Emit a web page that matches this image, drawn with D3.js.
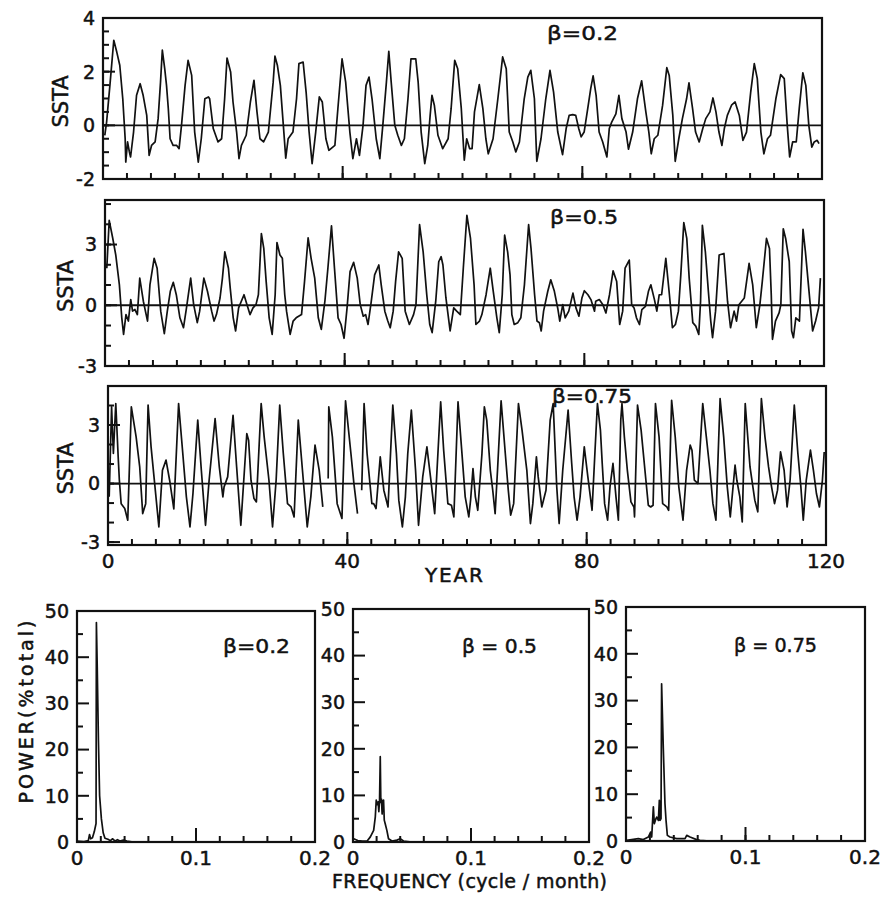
<!DOCTYPE html>
<html>
<head>
<meta charset="utf-8">
<script src="https://cdn.jsdelivr.net/npm/d3@7"></script>
<style>
body{margin:0;background:#fff}
text{font-family:"DejaVu Sans",sans-serif;fill:#111;stroke:#111;stroke-width:0.5px}
</style>
</head>
<body>
<div id="chart"></div>
<script>
// ---- data ----
var yearLabels = [0, 40, 80, 120];
var sstaLabels02 = [-2, 0, 2, 4];
var sstaLabels05 = [-3, 0, 3];
var sstaLabels075 = [-3, 0, 3];
var freqLabels = [0, 0.1, 0.2];
var powerLabels = [0, 10, 20, 30, 40, 50];
var betas = ["0.2", "0.5", "0.75"];

// SSTA series [year, value]; null = gap in the trace
var ssta02 = [[0.3,-0.37],[0.6,0.12],[1.2,1.61],[1.8,3.17],[2.3,2.73],[2.8,2.24],[3.3,0.99],[3.7,-0.5],[3.8,-1.37],[4.1,-0.62],[4.4,-0.99],[4.6,-1.18],[5.1,-0.25],[5.6,1.12],[6.2,1.55],[6.7,1.12],[7.3,0.37],[7.7,-1.12],[8.1,-0.75],[8.7,-0.62],[9.2,0.25],[9.6,1.61],[9.9,2.8],[10.3,2.11],[10.6,1.49],[10.9,0.62],[11.2,-0.5],[11.7,-0.75],[12.3,-0.75],[12.7,-0.87],[13.1,0],[13.7,1.49],[14.2,2.42],[14.8,1.86],[15.3,-0.25],[15.9,-1.37],[16.4,-0.5],[17.0,0.99],[17.6,1.06],[17.8,0.99],[18.4,-0.12],[19.2,-0.62],[19.8,-0.5],[20.3,0.99],[20.7,2.51],[21.3,1.99],[21.7,0.87],[22.3,-0.25],[22.7,-1.24],[23.1,-0.75],[23.9,-0.37],[24.6,0.87],[25.2,1.68],[25.7,0.5],[26.2,-0.5],[26.8,-0.62],[27.6,-0.25],[28.4,1.61],[28.7,2.58],[29.1,2.24],[29.6,1.49],[30.1,0],[30.5,-1.22],[30.9,-0.5],[31.7,-0.25],[32.3,0.99],[32.7,2.3],[33.4,2.36],[33.9,1.24],[34.4,-0.25],[34.9,-1.43],[35.5,-0.25],[36.1,1.06],[36.6,0.87],[37.2,-0.5],[37.7,-0.93],[38.7,-0.75],[39.2,0.62],[39.9,2.48],[40.5,1.61],[41.2,-0.25],[41.7,-1.24],[42.3,-0.5],[42.8,-1.12],[43.4,0],[43.9,1.49],[44.4,1.8],[44.9,0.99],[45.6,-0.5],[46.2,-1.24],[46.7,0],[47.3,1.61],[47.7,2.76],[48.1,1.61],[48.7,0],[49.2,-0.37],[49.8,-0.75],[50.3,-0.5],[50.9,0.99],[51.4,2.48],[52.2,2.48],[52.6,1.61],[53.1,-0.25],[53.7,-1.43],[54.2,-0.75],[54.6,0.37],[54.9,1.12],[55.3,0.75],[55.9,-0.37],[56.7,-0.87],[57.6,-0.5],[58.1,0.62],[58.7,2.42],[59.2,2.11],[59.8,0.62],[60.3,-1.3],[60.7,-0.5],[61.2,-0.87],[61.6,-0.87],[62.0,0.5],[62.8,1.52],[63.4,0.62],[63.9,-0.5],[64.3,-1.06],[65.1,-0.5],[65.9,0.99],[66.7,2.55],[67.3,2.11],[67.8,-0.25],[68.4,-0.62],[68.9,-0.99],[69.5,-0.62],[70.3,0.99],[70.9,1.8],[71.4,2.05],[72.0,0.99],[72.4,-1.34],[73.1,-0.5],[73.9,0.99],[74.6,2.05],[75.2,1.24],[75.9,-0.25],[76.7,-1.09],[77.3,-0.12],[77.8,0.37],[78.4,0.4],[78.9,0.37],[79.4,-0.12],[79.8,-0.43],[80.3,-0.25],[80.9,0.62],[81.4,1.37],[81.8,1.84],[82.3,1.12],[82.8,-0.25],[83.4,-0.62],[84.1,-1.18],[84.5,-0.12],[84.9,0.12],[85.6,0.43],[86.1,1.12],[86.6,0.25],[87.3,-0.25],[87.7,-0.89],[88.4,-0.25],[89.2,0.99],[89.9,1.66],[90.6,0.5],[91.1,-0.25],[91.5,-1.06],[92.0,-0.5],[92.6,-0.37],[93.4,0.75],[94.1,2.15],[94.5,1.86],[95.1,0.37],[95.5,-1.34],[96.1,-0.5],[96.7,0.25],[97.4,0.99],[97.8,1.58],[98.4,0.62],[98.9,-0.25],[99.5,-0.62],[100.1,-0.12],[100.6,0.25],[101.3,0.5],[101.8,1.02],[102.3,0.5],[102.8,-0.25],[103.3,-0.75],[103.7,-0.12],[104.2,0.37],[104.9,0.75],[105.5,0.87],[106.2,0.37],[106.8,-0.56],[107.4,-0.25],[108.1,1.24],[108.7,2.3],[109.2,1.74],[109.8,-0.25],[110.3,-1.06],[110.9,-0.5],[111.4,-0.37],[112.3,0.99],[113.1,1.89],[113.7,1.74],[114.2,0],[114.6,-1.18],[115.1,-0.62],[115.7,-0.62],[116.2,0.62],[116.8,1.96],[117.3,1.49],[117.8,0],[118.3,-0.81],[118.7,-0.62],[119.2,-0.56],[119.5,-0.68]];

var ssta05 = [[0.3,1.83],[0.7,4.19],[1.3,3.3],[1.8,2.48],[2.4,1.01],[2.8,-0.62],[3.1,-1.44],[3.5,-0.46],[3.9,-0.78],[4.3,0.28],[4.6,-0.29],[5.0,-0.21],[5.4,-0.46],[5.8,1.34],[6.4,0.2],[7.1,-0.78],[7.5,1.01],[8.2,2.32],[8.7,1.83],[9.3,-0.29],[9.9,-1.4],[10.4,-0.29],[10.9,0.69],[11.4,1.13],[11.9,0.52],[12.5,-0.62],[13.1,-1.11],[13.6,-0.13],[14.3,1.34],[14.8,0.03],[15.4,-0.86],[15.8,-0.29],[16.5,1.34],[17.1,0.69],[17.8,-0.29],[18.2,-0.78],[18.6,-0.46],[19.2,0.36],[19.6,1.34],[20.0,2.64],[20.6,1.83],[20.9,0.85],[21.4,-0.62],[21.8,-1.27],[22.3,-0.13],[23.2,0.52],[23.7,0.03],[24.2,-0.46],[24.7,-0.13],[25.2,0.03],[25.6,0.52],[26.1,3.54],[26.5,2.81],[26.9,1.17],[27.4,-0.62],[27.9,-1.44],[28.4,0.52],[28.7,3.1],[29.2,2.48],[29.6,2.32],[30.0,0.52],[30.3,-0.29],[30.9,-1.44],[31.4,-0.78],[31.9,-0.62],[32.8,-0.46],[33.3,1.17],[33.9,3.33],[34.4,2.32],[35.0,1.34],[35.6,-0.62],[36.1,-1.19],[36.7,0.2],[37.2,1.83],[37.8,3.92],[38.3,1.83],[38.9,-0.62],[39.4,-0.95],[39.9,-1.63],[40.4,-0.13],[40.9,1.66],[41.5,2.12],[42.1,1.34],[42.6,0.03],[43.1,-0.54],[43.5,-0.46],[43.9,-0.95],[44.4,0.11],[45.0,1.5],[45.7,1.99],[46.1,1.01],[46.7,-0.29],[47.2,-0.78],[47.6,-1.11],[48.1,-0.29],[48.5,1.17],[49.0,2.64],[49.6,2.32],[50.1,-0.29],[50.8,-0.95],[51.5,-0.46],[51.9,0.03],[52.5,3.98],[53.1,2.64],[53.7,0.52],[54.2,-0.95],[54.6,-1.35],[55.2,0.2],[55.7,2.15],[56.1,2.4],[56.4,1.99],[56.9,0.36],[57.6,-1.27],[58.2,-0.13],[58.7,-0.29],[59.3,-0.46],[59.8,1.83],[60.4,4.44],[61.0,3.3],[61.6,1.01],[61.9,-0.95],[62.5,-0.78],[62.9,-0.46],[63.6,0.52],[64.3,1.83],[64.8,0.69],[65.4,-0.62],[65.8,-1.35],[66.3,0.52],[66.7,3.46],[67.2,2.64],[67.6,1.5],[67.9,-0.46],[68.3,-0.95],[68.9,-0.86],[69.4,-0.62],[70.0,1.01],[70.7,3.98],[71.1,2.81],[71.7,0.52],[72.1,-0.78],[72.5,-0.86],[72.8,-1.27],[73.2,-0.29],[73.9,0.69],[74.4,1.26],[75.0,0.69],[75.6,-0.21],[75.9,-0.78],[76.4,0.03],[76.8,-0.62],[77.4,-0.29],[78.1,0.6],[78.6,-0.13],[79.1,-0.54],[79.6,0.36],[80.0,0.72],[80.6,0.52],[81.1,0.28],[81.7,-0.29],[81.9,0.2],[82.5,0.28],[83.1,0.03],[83.6,-0.38],[84.2,0.52],[84.8,1.7],[85.4,1.17],[85.9,-0.95],[86.4,-0.29],[86.8,1.83],[87.5,2.23],[87.9,0.03],[88.3,-0.13],[88.7,-0.62],[89.2,-0.95],[89.6,-0.21],[90.2,-0.05],[90.7,0.69],[91.1,1.01],[91.7,0.28],[92.1,-0.29],[92.5,0.52],[92.9,0.52],[93.6,2.32],[94.2,0.52],[94.7,-1.11],[95.2,-0.95],[95.7,-0.29],[96.1,1.5],[96.6,4.08],[97.1,3.3],[97.5,1.34],[98.1,-0.86],[98.6,-1.03],[99.1,-1.44],[99.4,0.2],[99.7,3.95],[100.2,2.64],[100.7,0.69],[101.1,-0.78],[101.4,-1.6],[101.9,-0.29],[102.5,2.48],[103.3,2.56],[103.9,0.2],[104.4,-1.11],[105.0,-0.29],[105.4,-0.78],[105.8,0.03],[106.7,0.36],[107.5,2.07],[108.1,1.01],[108.7,-1.11],[109.3,0.03],[109.7,1.17],[110.4,3.3],[110.9,2.81],[111.2,0.5],[111.4,-1.68],[111.9,-0.78],[112.5,-0.38],[112.8,0.03],[113.2,3.78],[113.6,3.3],[114.2,2.15],[114.6,-1.27],[114.9,-1.6],[115.3,-0.62],[115.9,-0.78],[116.5,3.75],[116.9,2.64],[117.5,0.69],[118.1,-1.27],[118.6,-0.78],[119.1,-0.13],[119.4,1.34]];

var ssta075 = [[0.2,-0.68],[0.6,3.93],[0.9,1.54],[1.3,4.1],[1.7,1.37],[1.9,0.17],[2.2,-1.03],[2.8,-1.28],[3.3,-1.88],[3.9,3.93],[4.7,2.39],[5.3,0.85],[5.8,-1.54],[6.3,-1.03],[6.7,4.02],[7.2,1.88],[7.8,0],[8.5,-2.22],[9.1,0.68],[9.7,1.2],[10.3,0.17],[11.0,-1.3],[11.8,4.1],[12.5,1.54],[13.1,-0.68],[13.7,-2.22],[14.2,-0.51],[15.0,3.25],[15.6,0.68],[16.3,-2.14],[16.9,0.17],[17.9,3.33],[18.6,0.85],[19.2,-0.68],[19.4,-0.17],[20.0,0.34],[20.9,3.5],[21.5,0.85],[22.2,-2.14],[22.8,0.68],[23.2,2.56],[23.5,2.22],[23.9,0.17],[24.4,-0.77],[24.8,-0.94],[25.6,4.1],[26.1,2.39],[26.9,0.17],[27.5,-2.22],[28.1,0.17],[28.7,4.02],[29.3,1.54],[30.0,-1.03],[30.6,-1.2],[31.1,-1.71],[31.8,3.25],[32.5,0.68],[33.3,-2.22],[33.9,-0.68],[34.6,1.97],[35.3,0.68],[35.9,-1.2],[36.4,null],[36.8,0.26],[36.9,3.93],[37.5,2.39],[38.3,-1.03],[39.1,-1.79],[39.7,4.24],[40.6,1.54],[41.1,0],[41.7,-1.54],[42.0,null],[42.4,-0.34],[42.8,4.1],[43.3,1.54],[44.1,-1.03],[44.4,-1.03],[44.8,-1.28],[45.5,1.37],[46.1,-0.34],[46.8,-1.2],[47.6,4.02],[48.2,1.54],[48.6,-0.85],[49.2,-2.22],[49.7,-0.68],[50.1,1.54],[50.7,3.76],[51.4,0.68],[51.9,-2.14],[52.6,0.34],[53.3,1.88],[53.9,0.34],[54.6,-1.54],[55.6,4.19],[56.1,1.71],[56.8,-1.03],[57.4,-1.11],[57.8,-1.71],[58.5,4.19],[59.2,1.37],[59.7,-0.68],[60.3,-1.71],[60.6,-0.85],[61.0,0.77],[61.4,-0.68],[61.8,-1.37],[62.5,1.54],[62.9,3.93],[63.3,3.25],[63.9,0.68],[64.3,-0.34],[64.7,-1.54],[65.1,0.68],[65.7,4.24],[66.4,1.54],[66.9,-0.34],[67.3,-1.62],[67.8,-1.03],[68.6,4.1],[69.2,2.74],[70.0,0.68],[70.6,-2.05],[71.0,-1.03],[71.6,1.37],[71.9,0.34],[72.5,-1.2],[73.2,-0.34],[73.9,3.25],[74.4,4.1],[75.0,-0.17],[75.4,-2.05],[76.0,0.68],[76.9,3.76],[77.5,1.03],[77.9,-0.68],[78.4,-1.88],[78.9,-0.68],[79.6,1.88],[80.2,0.34],[80.9,-1.37],[81.4,1.71],[81.8,4.1],[82.3,2.74],[82.6,1.03],[83.0,-1.03],[83.5,-1.88],[83.9,-0.17],[84.4,1.03],[84.9,-0.68],[85.3,-1.88],[85.7,3.25],[85.9,4.1],[86.3,2.39],[86.8,0.68],[87.4,-0.94],[87.9,-1.2],[88.0,-1.71],[88.5,4.02],[89.1,2.74],[89.9,0.17],[90.3,-1.11],[90.7,-1.2],[91.1,-1.11],[91.5,4.1],[92.1,2.39],[92.7,-1.03],[93.4,-1.2],[93.7,-1.37],[94.2,4.27],[94.8,2.39],[95.4,-0.17],[96.1,-1.88],[96.7,0.68],[97.3,1.97],[97.6,1.71],[98.0,0.17],[98.6,0],[99.4,4.1],[100.0,2.39],[100.6,0.68],[101.1,-1.03],[101.6,-1.88],[102.3,4.36],[102.9,2.39],[103.5,-0.17],[104.0,-1.71],[104.8,0.94],[105.1,0.17],[105.6,-0.68],[106.0,-1.97],[106.5,4.1],[107.3,0.85],[108.1,-0.85],[108.6,-1.45],[109.2,4.36],[109.8,2.39],[110.4,0.85],[110.9,-0.17],[111.4,-1.03],[111.9,-0.34],[112.4,1.62],[113.0,0.68],[113.5,-1.2],[114.0,0.17],[114.7,4.02],[115.3,1.54],[115.8,-0.17],[116.2,-1.88],[116.7,0.17],[117.4,1.71],[117.9,0.68],[118.4,-0.51],[118.9,-1.2],[119.4,0.17],[119.7,1.62]];

// power spectra [frequency, % of total]
var power02 = [[0,0.2],[0.006,0.1],[0.0095,0.3],[0.0105,1.6],[0.0115,0.7],[0.013,0.9],[0.0145,2.2],[0.016,4.0],[0.0163,47.5],[0.017,38],[0.018,22],[0.019,10],[0.0205,5],[0.022,2.0],[0.0235,0.8],[0.026,0.6],[0.028,0.3],[0.03,0.7],[0.032,0.2],[0.034,0.5],[0.036,0.2],[0.039,0.4],[0.042,0.2],[0.046,0.05],[0.06,0],[0.2,0]];
var power05 = [[0.0006,0.7],[0.004,0.3],[0.008,0.2],[0.012,0.2],[0.0147,1.1],[0.0175,2.5],[0.0189,5.4],[0.0197,9.0],[0.0205,8.0],[0.0213,8.6],[0.0219,6.5],[0.0225,9.0],[0.0231,18.3],[0.0236,8.5],[0.0241,9.2],[0.0247,6.0],[0.0252,8.8],[0.0259,9.0],[0.0265,4.7],[0.0273,3.9],[0.0287,2.5],[0.0301,0.7],[0.033,0.2],[0.0372,0.4],[0.04,0.7],[0.0428,0.2],[0.05,0],[0.2,0]];
var power075 = [[0.0006,0.14],[0.0103,0.5],[0.0145,0.3],[0.0187,0.85],[0.0206,1.9],[0.0215,0.85],[0.0229,7.3],[0.0237,3.7],[0.0248,4.6],[0.0257,5.1],[0.0271,4.4],[0.0279,8.7],[0.0285,4.4],[0.0293,4.8],[0.0298,33.6],[0.0312,20],[0.0326,8],[0.0335,4.4],[0.0346,1.2],[0.0368,0.85],[0.0424,0.5],[0.0494,0.5],[0.0508,1.2],[0.0536,0.85],[0.0591,0.3],[0.0619,0.14],[0.07,0],[0.2,0]];

// ---- layout ----
var svg = d3.select("#chart").append("svg")
            .attr("width", 882)
            .attr("height", 897);

var ink = "#111";

// ticks drawn inside the frame, labels outside
function ticksLeft(y, x0, values, len, labels){
    var g = svg.append("g");
    g.selectAll("line").data(values).enter().append("line")
        .attr("x1", x0).attr("x2", x0 + len)
        .attr("y1", function(d){ return y(d); }).attr("y2", function(d){ return y(d); })
        .attr("stroke", ink).attr("stroke-width", 2);
    if (labels) {
        g.selectAll("text").data(values).enter().append("text")
            .attr("x", x0 - 8).attr("y", function(d){ return y(d); })
            .attr("dy", "0.36em")
            .attr("text-anchor", "end")
            .attr("font-size", 19)
            .text(function(d){ return String(d); });
    }
}

function ticksBottom(x, y0, values, len, labels){
    var g = svg.append("g");
    g.selectAll("line").data(values).enter().append("line")
        .attr("y1", y0).attr("y2", y0 - len)
        .attr("x1", function(d){ return x(d); }).attr("x2", function(d){ return x(d); })
        .attr("stroke", ink).attr("stroke-width", 2);
    if (labels) {
        g.selectAll("text").data(values).enter().append("text")
            .attr("x", function(d){ return x(d); }).attr("y", y0 + 8)
            .attr("dy", "0.75em")
            .attr("text-anchor", "middle")
            .attr("font-size", 20)
            .text(function(d){ return String(d); });
    }
}

function betaLabel(x, y, b, spaced, len){
    svg.append("text")
        .attr("x", x).attr("y", y)
        .attr("font-size", 20)
        .attr("textLength", len)
        .attr("lengthAdjust", "spacingAndGlyphs")
        .text("\u03B2" + (spaced ? " = " : "=") + b);
}

// top: SSTA time series
var series = [
    {data: ssta02, labels: sstaLabels02, minorStep: 0.5, dom: [-2, 4], x0: 103, x1: 822, top: 18, bottom: 179, bx: 547, by: 40, blen: 71},
    {data: ssta05, labels: sstaLabels05, minorStep: 1, dom: [-3, 5.2], x0: 105, x1: 824, top: 200, bottom: 366, bx: 550, by: 224, blen: 68},
    {data: ssta075, labels: sstaLabels075, minorStep: 1, dom: [-3.15, 5.0], x0: 108, x1: 826, top: 386, bottom: 545, bx: 552, by: 403, blen: 80}
];

series.forEach(function(p, i){
    var x = d3.scaleLinear().domain([0, 120]).range([p.x0, p.x1]);
    var y = d3.scaleLinear().domain(p.dom).range([p.bottom, p.top]);
    var minor = d3.range(Math.ceil(p.dom[0]), p.dom[1] + 0.001, p.minorStep);

    ticksLeft(y, p.x0, minor, 6, false);
    ticksLeft(y, p.x0, p.labels, 12, true);
    ticksBottom(x, p.bottom, d3.range(4, 120, 4), 6, false);
    ticksBottom(x, p.bottom, yearLabels, 13, i === 2);

    // zero line
    svg.append("line")
        .attr("x1", p.x0).attr("x2", p.x1)
        .attr("y1", y(0)).attr("y2", y(0))
        .attr("stroke", ink).attr("stroke-width", 1.8);

    var line = d3.line()
        .defined(function(d){ return d[1] !== null; })
        .x(function(d){ return x(d[0]); })
        .y(function(d){ return y(d[1]); });

    svg.append("path")
        .attr("d", line(p.data))
        .attr("fill", "none")
        .attr("stroke", ink)
        .attr("stroke-width", 1.7)
        .attr("stroke-linejoin", "round");

    svg.append("rect")
        .attr("x", p.x0).attr("y", p.top)
        .attr("width", p.x1 - p.x0).attr("height", p.bottom - p.top)
        .attr("fill", "none").attr("stroke", ink).attr("stroke-width", 2.2);

    var cy = (p.top + p.bottom) / 2 + 3;
    svg.append("text")
        .attr("transform", "translate(" + (i === 0 ? 68 : 73) + "," + cy + ") rotate(-90)")
        .attr("text-anchor", "middle")
        .attr("font-size", 21)
        .text("SSTA");

    betaLabel(p.bx, p.by, betas[i], false, p.blen);
});

svg.append("text")
    .attr("x", 425).attr("y", 582)
    .attr("font-size", 20)
    .attr("textLength", 58)
    .attr("lengthAdjust", "spacing")
    .text("YEAR");

// bottom: power spectra
var spectra = [
    {data: power02, x0: 77, x1: 315, top: 611, bottom: 842, bx: 223, by: 653, blen: 67, sp: false},
    {data: power05, x0: 353, x1: 589, top: 609, bottom: 842, bx: 462, by: 653, blen: 75, sp: true},
    {data: power075, x0: 626, x1: 865, top: 607, bottom: 841, bx: 734, by: 652, blen: 83, sp: true}
];

spectra.forEach(function(p, i){
    var x = d3.scaleLinear().domain([0, 0.2]).range([p.x0, p.x1]);
    var y = d3.scaleLinear().domain([0, 50]).range([p.bottom, p.top]);

    ticksLeft(y, p.x0, d3.range(5, 50, 10), 6, false);
    ticksLeft(y, p.x0, powerLabels, 12, true);
    ticksBottom(x, p.bottom, d3.range(0.02, 0.19, 0.02), 6, false);
    ticksBottom(x, p.bottom, freqLabels, 14, true);

    var line = d3.line()
        .x(function(d){ return x(d[0]); })
        .y(function(d){ return y(d[1]); });

    svg.append("path")
        .attr("d", line(p.data))
        .attr("fill", "none")
        .attr("stroke", ink)
        .attr("stroke-width", 1.7)
        .attr("stroke-linejoin", "round");

    svg.append("rect")
        .attr("x", p.x0).attr("y", p.top)
        .attr("width", p.x1 - p.x0).attr("height", p.bottom - p.top)
        .attr("fill", "none").attr("stroke", ink).attr("stroke-width", 2.2);

    betaLabel(p.bx, p.by, betas[i], p.sp, p.blen);
});

svg.append("text")
    .attr("transform", "translate(33,712) rotate(-90)")
    .attr("text-anchor", "middle")
    .attr("font-size", 19)
    .attr("textLength", 183)
    .attr("lengthAdjust", "spacing")
    .text("POWER(%total)");

svg.append("text")
    .attr("x", 332).attr("y", 888)
    .attr("font-size", 19)
    .attr("textLength", 275)
    .attr("lengthAdjust", "spacing")
    .text("FREQUENCY (cycle / month)");
</script>
</body>
</html>
